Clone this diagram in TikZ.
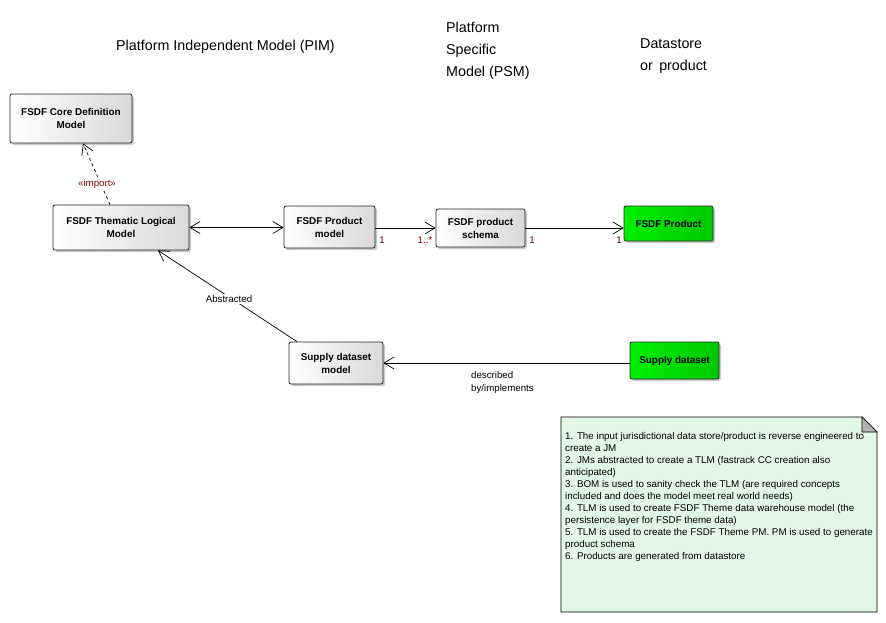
\documentclass[tikz,border=0pt]{standalone}
\usepackage{fontspec}
\setmainfont{Liberation Sans}
\usetikzlibrary{arrows.meta,shadows,calc}
\definecolor{umlred}{RGB}{128,0,0}
\definecolor{notefill}{RGB}{226,248,228}
\definecolor{gA}{RGB}{0,240,0}
\definecolor{gB}{RGB}{0,200,0}
\tikzset{
  box/.style={draw=black!85, line width=0.8pt, rounded corners=2pt, align=center,
    left color=white, right color=black!15,
    drop shadow={shadow xshift=2pt, shadow yshift=-2pt, fill=black!35, opacity=0.6},
    font=\fontsize{9.9}{13}\selectfont\bfseries, inner sep=2pt},
  gbox/.style={box, left color=gA, right color=gB},
  conn/.style={line width=0.7pt, draw=black},
  barb/.style={-{Straight Barb[length=10pt,width=12pt,line width=0.7pt]}},
  hdr/.style={font=\fontsize{14.3}{22}\selectfont, align=left, inner sep=0pt},
  lbl/.style={font=\fontsize{9.7}{13.5}\selectfont, inner sep=0pt, align=left},
  mult/.style={lbl, text=umlred},
}
\begin{document}
\begin{tikzpicture}[x=1pt,y=-1pt]
\useasboundingbox[fill=white] (0,0) rectangle (886,622);

% headers
\node[hdr, anchor=west] (hpim) at (116,47) {Platform Independent Model (PIM)};
\node[hdr, anchor=north west] (hpsm) at (446,22) {Platform\\Specific\\Model (PSM)};
\node[hdr, anchor=north west] (hds) at (640,38) {Datastore\\or\, product};

% boxes
\node[box, minimum width=122pt, minimum height=49pt] (core) at (71,118.5) {FSDF Core Definition\\Model};
\node[box, minimum width=136pt, minimum height=45pt] (tlm) at (121,227.5) {FSDF Thematic Logical\\Model};
\node[box, minimum width=91pt, minimum height=42pt] (pm) at (329.5,227) {FSDF Product\\model};
\node[box, minimum width=89pt, minimum height=38pt] (ps) at (480.5,228) {FSDF product\\schema};
\node[gbox, minimum width=89pt, minimum height=35pt] (prod) at (668.5,223.5) {FSDF Product};
\node[box, minimum width=94pt, minimum height=42pt] (sdm) at (336,363) {Supply dataset\\model};
\node[gbox, minimum width=89pt, minimum height=37pt] (sd) at (674.5,360.5) {Supply dataset};

% connectors
\draw[conn, dashed, barb] ([xshift=-11pt]tlm.north) -- ([xshift=12pt]core.south);
\node[lbl, text=umlred, fill=white, inner sep=1.5pt] (limp) at (97,184) {«import»};

\draw[conn, {Straight Barb[length=10pt,width=12pt,line width=0.7pt]}-{Straight Barb[length=10pt,width=12pt,line width=0.7pt]}] (tlm.east) -- (tlm.east -| pm.west);

\draw[conn, barb] (ps.west -| pm.east) -- (ps.west);
\node[mult] (m1) at (382,240) {1};
\node[mult] (m2) at (425,240) {1..*};

\draw[conn, barb] (ps.east) -- (ps.east -| prod.west);
\node[mult] (m3) at (532,240) {1};
\node[mult] (m4) at (619,240) {1};

\draw[conn, barb] ([xshift=-39pt]sdm.north) -- ([xshift=37pt]tlm.south);
\node[lbl, fill=white, inner sep=1.5pt] (labs) at (229,299) {Abstracted};

\draw[conn, barb] (sd.west |- sdm.east) -- (sdm.east);
\node[lbl, anchor=north west] (ldesc) at (471,371) {described\\by/implements};

% note
\draw[line width=0.8pt, fill=notefill] (561,417) -- (862,417) -- (877,432) -- (877,612) -- (561,612) -- cycle;
\draw[line width=0.6pt, fill=black!30] (862,417) -- (862,432) -- (877,432) -- cycle;
\node[anchor=north west, inner sep=0pt, align=left, font=\fontsize{9.8}{12}\selectfont] (note) at (565,432) {%
1. The input jurisdictional data store/product is reverse engineered to\\
create a JM\\
2. JMs abstracted to create a TLM (fastrack CC creation also\\
anticipated)\\
3. BOM is used to sanity check the TLM (are required concepts\\
included and does the model meet real world needs)\\
4. TLM is used to create FSDF Theme data warehouse model (the\\
persistence layer for FSDF theme data)\\
5. TLM is used to create the FSDF Theme PM. PM is used to generate\\
product schema\\
6. Products are generated from datastore};
\end{tikzpicture}
\end{document}
